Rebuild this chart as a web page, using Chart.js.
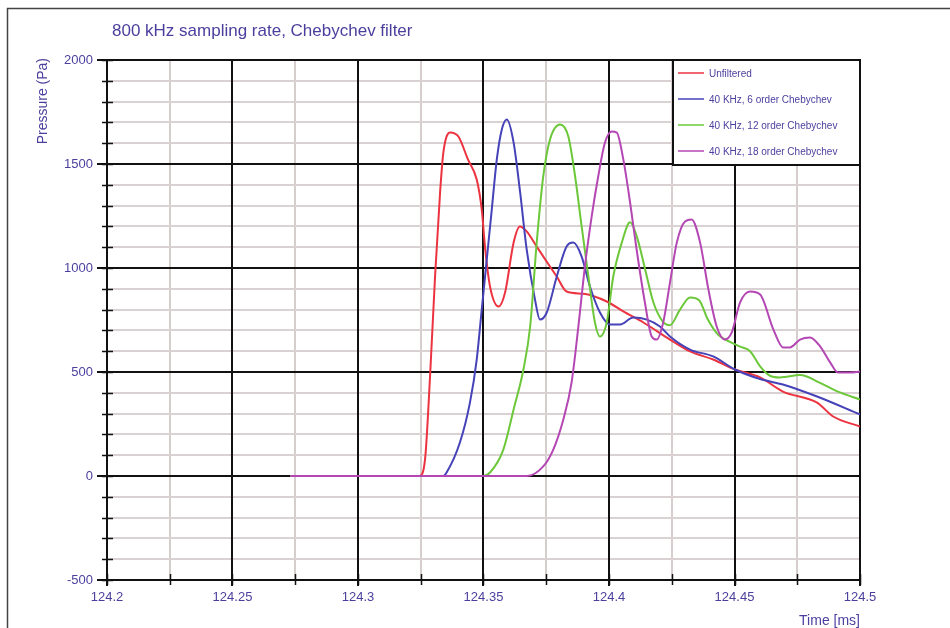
<!DOCTYPE html>
<html>
<head>
<meta charset="utf-8">
<title>Chebychev filter comparison</title>
<script src="https://cdn.jsdelivr.net/npm/chart.js@4.4.1/dist/chart.umd.min.js"></script>
<style>
  html, body { margin: 0; padding: 0; background: #fff; }
  #wrap { position: relative; width: 950px; height: 628px; }
</style>
</head>
<body>
<div id="wrap"><canvas id="chart" width="950" height="628"></canvas></div>
<script>
// Pressure traces (time in ms, pressure in Pa)
const unfilteredTime = [124.273, 124.3245, 124.3267, 124.3287, 124.3307, 124.3327, 124.334, 124.3367, 124.34, 124.3438,
  124.3473, 124.3493, 124.3507, 124.3526, 124.356, 124.3586, 124.362, 124.3645, 124.3672, 124.3712,
  124.3752, 124.3792, 124.3831, 124.3898, 124.3991, 124.4057, 124.4137, 124.4243, 124.4323, 124.4415,
  124.4502, 124.4602, 124.4693, 124.4829, 124.4893, 124.5];
const unfilteredPressure = [0, 0, 79, 478, 959, 1363, 1555, 1652, 1632, 1522,
  1425, 1281, 1089, 911, 815, 882, 1123, 1200, 1176, 1103,
  1030, 959, 887, 876, 839, 791, 738, 656, 599, 560,
  512, 474, 406, 353, 286, 238];

const order6Time = [124.273, 124.334, 124.3353, 124.3406, 124.3446, 124.3473, 124.3493, 124.3513, 124.3533, 124.3553,
  124.3573, 124.3593, 124.362, 124.3646, 124.3672, 124.3705, 124.3725, 124.3752, 124.3792, 124.3831,
  124.3858, 124.3891, 124.3924, 124.3964, 124.4004, 124.4044, 124.4097, 124.4151, 124.4203, 124.4243,
  124.4323, 124.4415, 124.4502, 124.4602, 124.4693, 124.4829, 124.5];
const order6Pressure = [0, 0, 17, 161, 353, 560, 800, 1041, 1281, 1522,
  1666, 1714, 1603, 1363, 1089, 849, 752, 786, 959, 1103,
  1122, 1055, 911, 786, 728, 728, 762, 752, 719, 671,
  608, 575, 512, 466, 440, 382, 296];

const order12Time = [124.273, 124.3498, 124.3526, 124.3579, 124.362, 124.3659, 124.3686, 124.3712, 124.3738, 124.3765,
  124.3805, 124.3838, 124.3865, 124.3891, 124.3918, 124.3944, 124.3964, 124.3991, 124.4017, 124.4051,
  124.4084, 124.4111, 124.4144, 124.4177, 124.4213, 124.4243, 124.4283, 124.4323, 124.4359, 124.4394,
  124.4434, 124.4482, 124.4522, 124.4562, 124.4602, 124.4641, 124.4681, 124.4761, 124.4841, 124.4912,
  124.5];
const order12Pressure = [0, 0, 17, 127, 320, 512, 720, 1122, 1440, 1618,
  1690, 1632, 1440, 1200, 959, 738, 671, 738, 959, 1122,
  1220, 1151, 993, 834, 745, 725, 800, 858, 845, 752,
  680, 645, 622, 600, 527, 482, 474, 485, 448, 406,
  368];

const order18Time = [124.273, 124.3673, 124.3738, 124.3778, 124.3818, 124.3851, 124.3878, 124.3904, 124.3931, 124.3957,
  124.3984, 124.4011, 124.4031, 124.4057, 124.4084, 124.411, 124.4143, 124.417, 124.419, 124.4216,
  124.4243, 124.427, 124.4303, 124.4329, 124.4363, 124.4396, 124.4429, 124.4462, 124.4489, 124.4522,
  124.4562, 124.4602, 124.4655, 124.4694, 124.4721, 124.4761, 124.4801, 124.4841, 124.4881, 124.4912,
  124.496, 124.5];
const order18Pressure = [0, 0, 46, 127, 272, 450, 719, 1007, 1248, 1440,
  1603, 1656, 1651, 1522, 1315, 1089, 834, 671, 656, 738,
  930, 1122, 1224, 1233, 1122, 897, 719, 656, 690, 834,
  887, 873, 704, 618, 618, 656, 666, 623, 546, 498,
  498, 502];

const seriesNames = ['Unfiltered', '40 KHz, 6 order Chebychev', '40 KHz, 12 order Chebychev', '40 KHz, 18 order Chebychev'];
const seriesColors = ['#ec3340', '#4642b8', '#6cc83a', '#b447b4'];

const xTickLabels = ['124.2', '124.25', '124.3', '124.35', '124.4', '124.45', '124.5'];
const yTickLabels = ['-500', '0', '500', '1000', '1500', '2000'];
const xMinorStep = 0.025;
const yMinorStep = 100;

const titleText = '800 kHz sampling rate, Chebychev filter';
const yTitle = 'Pressure (Pa)';
const xTitle = 'Time [ms]';

const TEXT_COLOR = '#4b3f9e';
const FONT = "'Liberation Sans', Arial, sans-serif";
const X_MIN = parseFloat(xTickLabels[0]);
const X_MAX = parseFloat(xTickLabels[xTickLabels.length - 1]);
const Y_MIN = parseFloat(yTickLabels[0]);
const Y_MAX = parseFloat(yTickLabels[yTickLabels.length - 1]);

const toPoints = (t, p) => t.map((x, i) => ({ x, y: p[i] }));

const traces = [
  toPoints(unfilteredTime, unfilteredPressure),
  toPoints(order6Time, order6Pressure),
  toPoints(order12Time, order12Pressure),
  toPoints(order18Time, order18Pressure),
];

const minorTicks = (min, max, step) => {
  const ticks = [];
  const n = Math.round((max - min) / step);
  for (let i = 0; i <= n; i++) ticks.push({ value: +(min + i * step).toFixed(4) });
  return ticks;
};

// frame, title, axis titles, minor tick marks and the boxed legend
const decorations = {
  id: 'decorations',
  beforeDraw(chart) {
    const { ctx } = chart;
    ctx.save();
    ctx.fillStyle = '#fff';
    ctx.fillRect(0, 0, chart.width, chart.height);
    ctx.strokeStyle = '#444';
    ctx.lineWidth = 1.5;
    ctx.beginPath();
    ctx.moveTo(7.5, chart.height);
    ctx.lineTo(7.5, 8.5);
    ctx.lineTo(chart.width, 8.5);
    ctx.stroke();
    ctx.restore();
  },
  afterDraw(chart) {
    const { ctx, chartArea } = chart;
    const xm = chart.scales.xm;
    const ym = chart.scales.ym;
    ctx.save();

    // minor tick marks crossing the axes
    ctx.strokeStyle = '#111';
    ctx.lineWidth = 1.5;
    ctx.beginPath();
    ym.ticks.forEach(t => {
      const y = Math.round(ym.getPixelForValue(t.value)) + 0.5;
      ctx.moveTo(chartArea.left - 5, y);
      ctx.lineTo(chartArea.left + 6, y);
    });
    xm.ticks.forEach(t => {
      const x = Math.round(xm.getPixelForValue(t.value)) + 0.5;
      ctx.moveTo(x, chartArea.bottom - 6);
      ctx.lineTo(x, chartArea.bottom + 5);
    });
    ctx.stroke();

    // title
    ctx.fillStyle = TEXT_COLOR;
    ctx.font = '17px ' + FONT;
    ctx.textAlign = 'left';
    ctx.textBaseline = 'alphabetic';
    ctx.fillText(titleText, 112, 36);

    // axis titles
    ctx.font = '14px ' + FONT;
    ctx.textAlign = 'right';
    ctx.fillText(xTitle, chartArea.right, 625);
    ctx.save();
    ctx.translate(47, chartArea.top - 2);
    ctx.rotate(-Math.PI / 2);
    ctx.textAlign = 'right';
    ctx.fillText(yTitle, 0, 0);
    ctx.restore();

    // legend box
    const lw = 187, lh = 105;
    const lx = chartArea.right - lw, ly = chartArea.top;
    ctx.fillStyle = '#fff';
    ctx.fillRect(lx, ly, lw, lh);
    ctx.strokeStyle = '#111';
    ctx.lineWidth = 2;
    ctx.strokeRect(lx, ly, lw, lh);
    ctx.font = '10px ' + FONT;
    ctx.textAlign = 'left';
    ctx.textBaseline = 'middle';
    chart.data.datasets.forEach((ds, i) => {
      const y = ly + 13 + i * 26;
      ctx.strokeStyle = ds.borderColor;
      ctx.lineWidth = 1.5;
      ctx.beginPath();
      ctx.moveTo(lx + 5, y);
      ctx.lineTo(lx + 31, y);
      ctx.stroke();
      ctx.fillStyle = TEXT_COLOR;
      ctx.fillText(ds.label, lx + 36, y + 1);
    });
    ctx.restore();
  }
};

new Chart(document.getElementById('chart'), {
  type: 'line',
  data: {
    datasets: traces.map((pts, i) => ({
      label: seriesNames[i],
      data: pts,
      borderColor: seriesColors[i],
      backgroundColor: seriesColors[i],
      borderWidth: 2,
      pointRadius: 0,
      cubicInterpolationMode: 'monotone',
      fill: false,
      // later traces sit on top where they overlap on the baseline
      order: traces.length - i,
    })),
  },
  options: {
    responsive: false,
    animation: false,
    layout: { padding: { left: 0, top: 60, right: 90, bottom: 8 } },
    plugins: {
      legend: { display: false },
      title: { display: false },
      tooltip: { enabled: false },
    },
    scales: {
      // minor grid (drawn first, underneath)
      xm: {
        type: 'linear', axis: 'x', position: 'bottom',
        min: X_MIN, max: X_MAX,
        afterBuildTicks: s => { s.ticks = minorTicks(X_MIN, X_MAX, xMinorStep); },
        afterFit: s => { s.height = 0; },
        ticks: { display: false },
        border: { display: false },
        grid: { color: '#d6cdcd', lineWidth: 2, drawTicks: false, z: -2 },
      },
      ym: {
        type: 'linear', axis: 'y', position: 'left',
        min: Y_MIN, max: Y_MAX,
        afterBuildTicks: s => { s.ticks = minorTicks(Y_MIN, Y_MAX, yMinorStep); },
        afterFit: s => { s.width = 0; },
        ticks: { display: false },
        border: { display: false },
        grid: { color: '#dad2d2', lineWidth: 2, drawTicks: false, z: -2 },
      },
      // major grid with labels
      x: {
        type: 'linear', position: 'bottom',
        min: X_MIN, max: X_MAX,
        afterBuildTicks: s => { s.ticks = xTickLabels.map(v => ({ value: parseFloat(v) })); },
        afterFit: s => { s.height = 40; },
        ticks: {
          autoSkip: false, maxRotation: 0, padding: 4,
          color: TEXT_COLOR, font: { family: FONT, size: 13 },
          callback: (v, i) => xTickLabels[i],
        },
        border: { display: true, color: '#111', width: 2 },
        grid: { color: '#111', lineWidth: 2, tickLength: 6, tickColor: '#111', z: -1 },
      },
      y: {
        type: 'linear', position: 'left',
        min: Y_MIN, max: Y_MAX,
        afterBuildTicks: s => { s.ticks = yTickLabels.map(v => ({ value: parseFloat(v) })); },
        afterFit: s => { s.width = 107; },
        ticks: {
          padding: 4,
          color: TEXT_COLOR, font: { family: FONT, size: 13 },
          callback: (v, i) => yTickLabels[i],
        },
        border: { display: true, color: '#111', width: 2 },
        grid: { color: '#111', lineWidth: 2, tickLength: 10, tickColor: '#111', z: -1 },
      },
    },
  },
  plugins: [decorations],
});
</script>
</body>
</html>
